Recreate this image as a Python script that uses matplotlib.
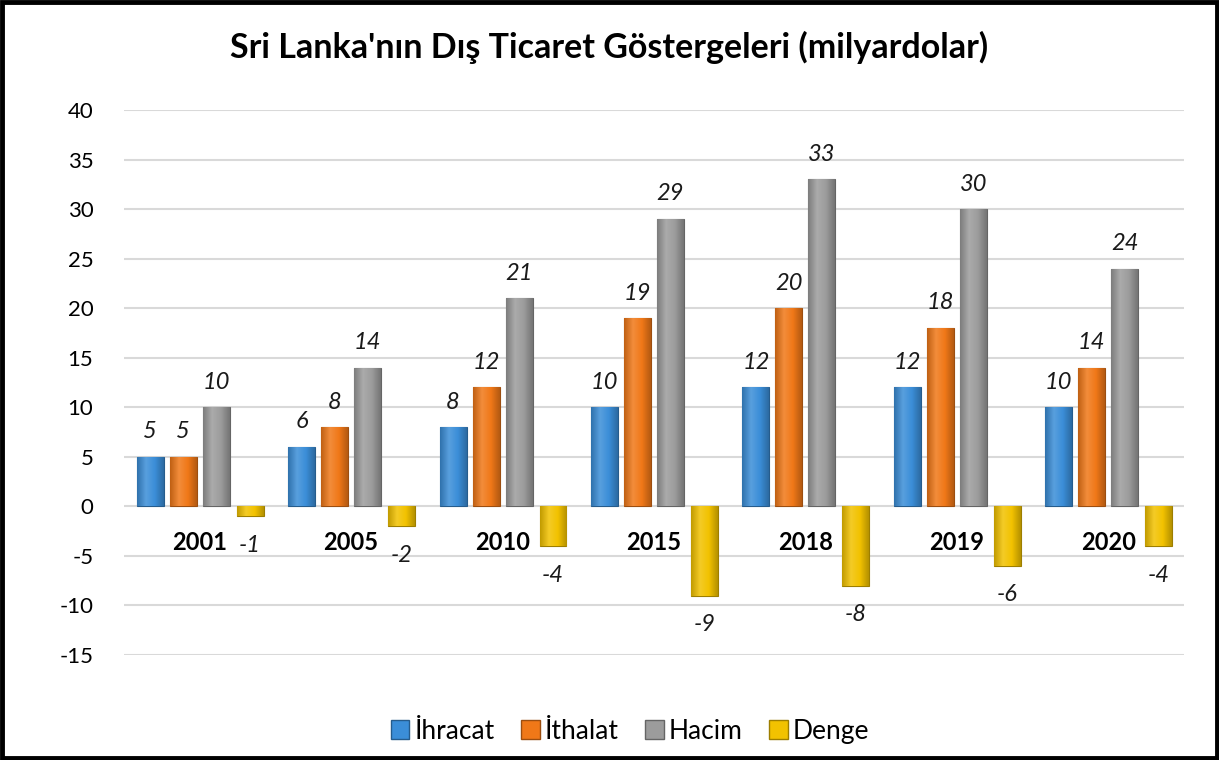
import matplotlib
matplotlib.use("Agg")
import matplotlib.pyplot as plt
import matplotlib.patches as mpatches
from matplotlib.colors import LinearSegmentedColormap, to_rgb
import numpy as np

plt.rcParams['font.family'] = ['Lato', 'DejaVu Sans']
plt.rcParams['axes.unicode_minus'] = False

years = ["2001", "2005", "2010", "2015", "2018", "2019", "2020"]
ihracat = [5, 6, 8, 10, 12, 12, 10]
ithalat = [5, 8, 12, 19, 20, 18, 14]
hacim = [10, 14, 21, 29, 33, 30, 24]
denge = [-1, -2, -4, -9, -8, -6, -4]

series = [("İhracat", ihracat, "#3B8ED8"),
          ("İthalat", ithalat, "#F07818"),
          ("Hacim", hacim, "#9C9C9C"),
          ("Denge", denge, "#F2C200")]


def shade(c, f):
    r, g, b = to_rgb(c)
    if f > 0:
        return (r + (1 - r) * f, g + (1 - g) * f, b + (1 - b) * f)
    return (r * (1 + f), g * (1 + f), b * (1 + f))


fig = plt.figure(figsize=(12.19, 7.6), dpi=100)
ax = fig.add_axes([0.1017, 0.1382, 0.8696, 0.7171])
ax.set_xlim(-0.5, 6.5)
ax.set_ylim(-15, 40)

x = np.arange(len(years))
width = 0.178
offsets = [-0.327, -0.109, 0.109, 0.333]

handles = []
for (name, vals, col), off in zip(series, offsets):
    bars = ax.bar(x + off, vals, width, color=col, edgecolor=shade(col, -0.35),
                  linewidth=0.8, zorder=3)
    cmap = LinearSegmentedColormap.from_list(
        name, [shade(col, -0.2), shade(col, 0.15), col, shade(col, -0.25)])
    grad = np.linspace(0, 1, 64).reshape(1, -1)
    for b in bars:
        x0, y0 = b.get_x(), b.get_y()
        w, h = b.get_width(), b.get_height()
        im = ax.imshow(grad, cmap=cmap, aspect='auto', zorder=3.5,
                       extent=[x0, x0 + w, min(y0, y0 + h), max(y0, y0 + h)])
        im.set_clip_path(b)
    for xi, v in zip(x + off, vals):
        ax.annotate(str(v), (xi, v), xytext=(0, 18 if v > 0 else -21),
                    textcoords='offset points', ha='center', va='center',
                    fontsize=17, fontstyle='italic', color='#1a1a1a')
    handles.append(mpatches.Patch(facecolor=col, edgecolor=shade(col, -0.35), label=name))

ax.set_xlim(-0.5, 6.5)
ax.set_ylim(-15, 40)
ax.set_yticks(range(-15, 41, 5))
ax.yaxis.grid(True, color='#D9D9D9', linewidth=1.5, zorder=0)
ax.set_axisbelow(True)
ax.tick_params(axis='y', length=0, labelsize=16, pad=22)
for s in ['top', 'right', 'left']:
    ax.spines[s].set_visible(False)
ax.spines['bottom'].set_position(('data', 0))
ax.spines['bottom'].set_visible(False)
ax.set_xticks(x)
ax.set_xticklabels(years, fontsize=17, fontweight='bold')
ax.tick_params(axis='x', length=0, pad=18)

fig.suptitle("Sri Lanka'nın Dış Ticaret Göstergeleri (milyardolar)",
             fontsize=24.5, fontweight='bold', y=0.937, va='center')

fig.legend(handles=handles, loc='center', bbox_to_anchor=(0.517, 0.038),
           ncol=4, frameon=False, fontsize=19, handlelength=0.7,
           handleheight=0.7, handletextpad=0.2, columnspacing=1.0)

fig.add_artist(mpatches.Rectangle((0.002, 0.003), 0.996, 0.994, transform=fig.transFigure,
                                  fill=False, edgecolor='black', linewidth=3.5))

fig.savefig("out.png", dpi=100)
